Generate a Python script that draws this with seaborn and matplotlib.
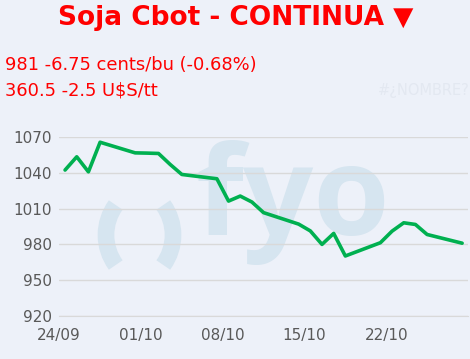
# %% Load data & packages
import pandas as pd
import seaborn as sns
import matplotlib.pyplot as plt
from matplotlib.patches import Arc
from matplotlib.transforms import IdentityTransform

dates = ["2024-09-24", "2024-09-25", "2024-09-26", "2024-09-27", "2024-09-30",
         "2024-10-01", "2024-10-02", "2024-10-03", "2024-10-04", "2024-10-07",
         "2024-10-08", "2024-10-09", "2024-10-10", "2024-10-11", "2024-10-14",
         "2024-10-15", "2024-10-16", "2024-10-17", "2024-10-18", "2024-10-21",
         "2024-10-22", "2024-10-23", "2024-10-24", "2024-10-25", "2024-10-28"]
prices = [1042.3, 1053.4, 1040.8, 1065.6, 1056.7,
          1056.5, 1056.2, 1047.0, 1038.6, 1035.0,
          1016.3, 1020.5, 1015.5, 1006.6, 997.0,
          991.3, 980.0, 989.2, 970.3, 981.4,
          991.1, 998.1, 996.7, 988.3, 981.0]
week_ticks = ["2024-09-24", "2024-10-01", "2024-10-08", "2024-10-15",
              "2024-10-22", "2024-10-29"]
week_labels = ["24/09", "01/10", "08/10", "15/10", "22/10", ""]
y_ticks = [920, 950, 980, 1010, 1040, 1070]

title = "Soja Cbot - CONTINUA \u25BC"
line1 = "981 -6.75 cents/bu (-0.68%)"
line2 = "360.5 -2.5 U$S/tt"

df = pd.DataFrame({"fecha": pd.to_datetime(dates) + pd.Timedelta(hours=12),
                   "precio": prices})

# %% Plot
bg = "#EDF1F9"
sns.set_style("white")
plt.rcParams["font.family"] = ["DejaVu Sans"]

fig = plt.figure(figsize=(4.7, 3.59), dpi=100, facecolor=bg)
ax = fig.add_axes([0.126, 0.1198, 0.8697, 0.4986])
ax.set_facecolor("none")

sns.lineplot(data=df, x="fecha", y="precio", ax=ax, color="#00B050",
             linewidth=2.6, zorder=3)

ax.set_ylim(920, 1070)
ax.set_yticks(y_ticks)
ax.set_xlim(pd.Timestamp("2024-09-24"), pd.Timestamp("2024-10-29"))
ax.set_xticks(pd.to_datetime(week_ticks))
ax.set_xticklabels(week_labels)
ax.grid(axis="y", color="#D9D9D9", linewidth=1)
ax.grid(axis="x", visible=False)
for s in ["top", "right", "left"]:
    ax.spines[s].set_visible(False)
ax.spines["bottom"].set_color("#D9D9D9")
ax.tick_params(axis="y", length=0, labelsize=11, labelcolor="#595959", pad=5)
ax.tick_params(axis="x", length=5, color="#D9D9D9", labelsize=11,
               labelcolor="#595959", pad=4)
ax.set_xlabel("")
ax.set_ylabel("")

# watermark logo (pixel coords, origin bottom-left)
wm = "#D6E5F0"
fig.text(195 / 470, 1 - 235 / 359, "fyo", fontsize=89, color=wm,
         family="Open Sans", fontweight="bold", ha="left", va="baseline",
         zorder=-1)
for cx, t1, t2 in [(157, 144, 216), (122, -36, 36)]:
    fig.add_artist(Arc((cx, 359 - 235), 102, 102, theta1=t1, theta2=t2,
                       transform=IdentityTransform(), color=wm,
                       linewidth=12, capstyle="butt", zorder=-1))

# header texts
fig.text(236 / 470, 1 - 18 / 359, title, fontsize=19, fontweight="bold",
         color="#FF0000", ha="center", va="center")
fig.text(5 / 470, 1 - 65 / 359, line1, fontsize=12.9, color="#FF0000",
         ha="left", va="center")
fig.text(5 / 470, 1 - 90 / 359, line2, fontsize=12.9, color="#FF0000",
         ha="left", va="center")
fig.text(378 / 470, 1 - 90 / 359, "#\u00BFNOMBRE?", fontsize=10.5,
         color="#E3E8F1", ha="left", va="center")

plt.savefig("out.png", dpi=100, facecolor=bg)
